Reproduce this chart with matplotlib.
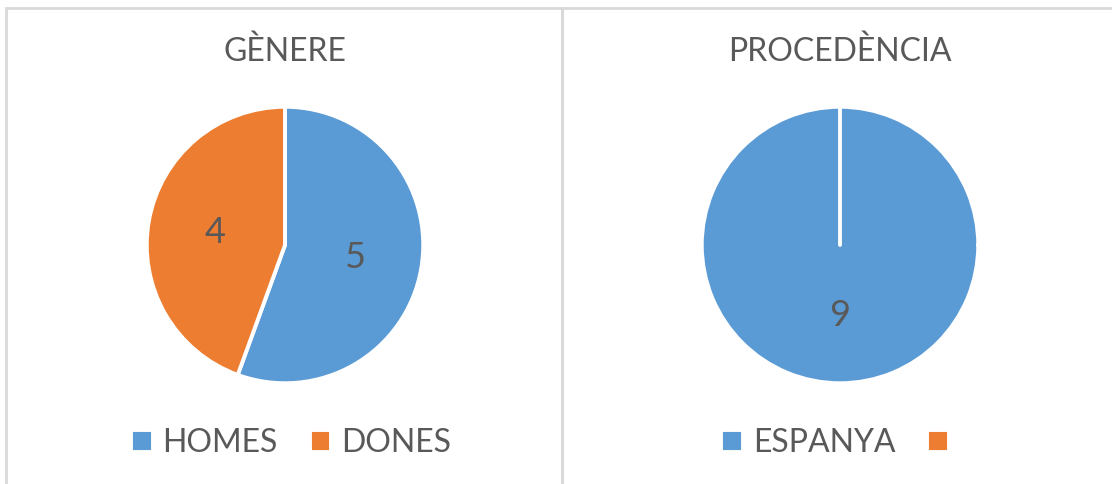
import matplotlib.pyplot as plt
import numpy as np
from matplotlib.patches import Rectangle

# Data
genere_labels = ['HOMES', 'DONES']
genere_values = [5, 4]
proc_labels = ['ESPANYA', '']
proc_values = [9, 0]

blue = '#5B9BD5'
orange = '#ED7D31'
text_gray = '#595959'
border = '#D9D9D9'

plt.rcParams['font.family'] = ['Lato', 'DejaVu Sans']

W, H = 1112, 484
fig = plt.figure(figsize=(W / 100, H / 100), dpi=100)


def px_axes(cx, cy, r):
    # axes box in figure fractions from a pixel centre and radius
    return [(cx - r) / W, (H - cy - r) / H, 2 * r / W, 2 * r / H]


# panel frames
fig.patches.append(Rectangle((5.5 / W, -0.1), (561.5 - 5.5) / W, 1.1 - 8.5 / H,
                             transform=fig.transFigure, fill=False,
                             edgecolor=border, linewidth=2))
fig.patches.append(Rectangle((561.5 / W, -0.1), 0.6, 1.1 - 8.5 / H,
                             transform=fig.transFigure, fill=False,
                             edgecolor=border, linewidth=2))


def draw_pie(cx, title, labels, values, legend_x):
    ax = fig.add_axes(px_axes(cx, 245, 141))
    wedges, _ = ax.pie(values, colors=[blue, orange], startangle=90,
                       counterclock=False, radius=1,
                       wedgeprops=dict(edgecolor='white', linewidth=2.8,
                                       capstyle='round', joinstyle='round'))
    ax.set_xlim(-1.02, 1.02)
    ax.set_ylim(-1.02, 1.02)
    ax.axis('off')
    for w, v in zip(wedges, values):
        if v == 0:
            continue
        mid = np.deg2rad((w.theta1 + w.theta2) / 2)
        ax.text(0.51 * np.cos(mid), 0.51 * np.sin(mid), str(v),
                ha='center', va='center', fontsize=26, color=text_gray)
    fig.text(cx / W, 1 - 52 / H, title, ha='center', va='center',
             fontsize=23, color=text_gray)
    fig.legend(wedges, labels, loc='center', ncol=2, frameon=False,
               bbox_to_anchor=(legend_x / W, 1 - 443 / H),
               fontsize=23, labelcolor=text_gray,
               handlelength=0.68, handleheight=0.68, handletextpad=0.3,
               columnspacing=1.0)


draw_pie(285, 'GÈNERE', genere_labels, genere_values, 291)
draw_pie(840, 'PROCEDÈNCIA', proc_labels, proc_values, 840)

plt.savefig('out.png', dpi=100)
